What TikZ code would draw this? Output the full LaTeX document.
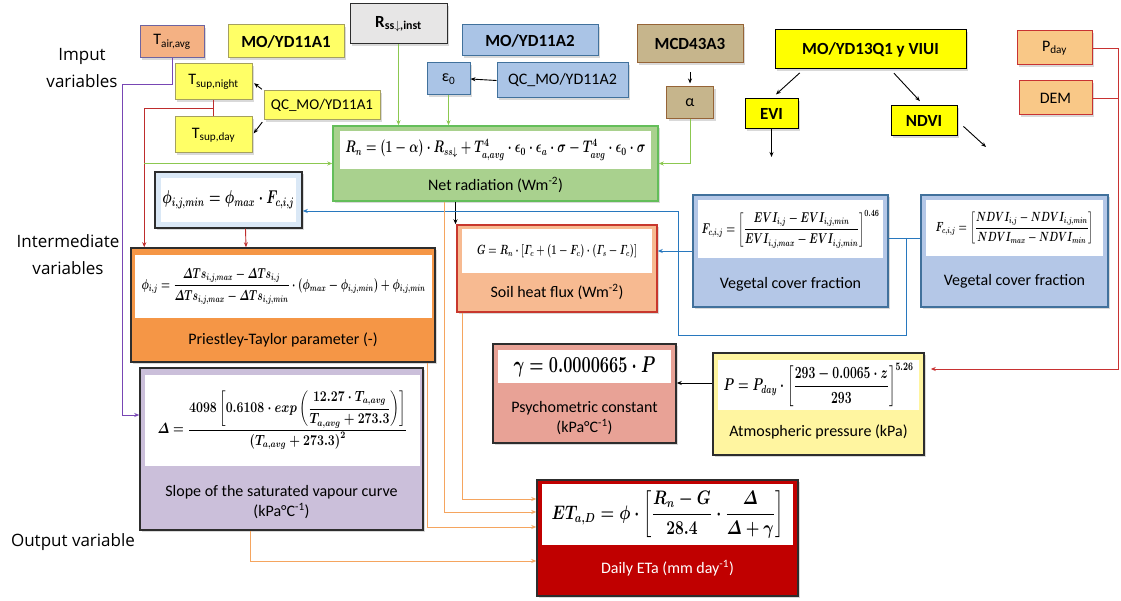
\RequirePackage{fix-cm}
\documentclass[tikz,border=0pt]{standalone}
\usepackage{amsmath}
\usepackage{graphicx}
\usepackage[no-math]{fontspec}
\setmainfont{Carlito}
\newfontfamily\handfont{Open Sans}
\usepackage{tikz}
\usetikzlibrary{arrows.meta,positioning,calc,shadows}
\definecolor{tairfill}{RGB}{244,177,131}
\definecolor{tairline}{RGB}{110,100,160}
\definecolor{yelsoft}{RGB}{255,255,102}
\definecolor{yelline}{RGB}{165,160,95}
\definecolor{yelbright}{RGB}{255,255,0}
\definecolor{rssfill}{RGB}{231,230,230}
\definecolor{bluefill}{RGB}{170,196,230}
\definecolor{blueline}{RGB}{65,113,156}
\definecolor{tanfill}{RGB}{198,181,140}
\definecolor{tanline}{RGB}{150,100,55}
\definecolor{demfill}{RGB}{249,200,135}
\definecolor{demline}{RGB}{200,50,50}
\definecolor{netfill}{RGB}{169,209,142}
\definecolor{netline}{RGB}{100,190,90}
\definecolor{phiband}{RGB}{218,232,246}
\definecolor{ptfill}{RGB}{245,150,70}
\definecolor{slopefill}{RGB}{203,191,218}
\definecolor{soilfill}{RGB}{247,186,145}
\definecolor{soilline}{RGB}{200,55,45}
\definecolor{vegfill}{RGB}{180,199,231}
\definecolor{psyfill}{RGB}{232,162,150}
\definecolor{atmfill}{RGB}{255,245,160}
\definecolor{etafill}{RGB}{192,0,0}
\definecolor{darkline}{RGB}{45,45,45}
\definecolor{purplelink}{RGB}{120,70,180}
\definecolor{redlink}{RGB}{190,45,45}
\definecolor{greenlink}{RGB}{140,200,80}
\definecolor{bluelink}{RGB}{40,120,190}
\definecolor{orangelink}{RGB}{245,165,95}
% squeeze a formula to the width of its white panel
\newcommand{\eqfit}[3][1.4]{\scalebox{1}[#1]{\resizebox{#2}{!}{\boldmath#3}}}

\begin{document}
\begin{tikzpicture}[x=1pt, y=-1pt,
  inbox/.style={rectangle, draw, line width=1pt, inner sep=2pt,
                font=\fontsize{16}{18}\selectfont,
                drop shadow={shadow xshift=2pt, shadow yshift=-2pt, opacity=0.3}},
  bbox/.style={inbox, font=\fontsize{17}{19}\selectfont\bfseries},
  card/.style={rectangle, draw=darkline, line width=1.5pt,
               drop shadow={shadow xshift=2pt, shadow yshift=-2pt, opacity=0.3}},
  eqbox/.style={rectangle, fill=white, inner sep=0pt,
                font=\fontsize{12}{14}\selectfont\boldmath},
  lab/.style={font=\fontsize{16}{20}\selectfont, align=center},
  sidelab/.style={font=\handfont\fontsize{17}{27}\selectfont, align=center},
  arr/.style={-{Stealth[length=5pt,width=4pt]}, line width=0.9pt},
  link/.style={line width=0.9pt},
]
\useasboundingbox (0,0) rectangle (1121,601);

% row labels
\node[sidelab] (inlab) at (82,68) {Imput\\variables};
\node[sidelab] (midlab) at (68,255) {Intermediate\\variables};
\node[sidelab] (outlab) at (73,542) {Output variable};

% input variables
\node[inbox, fill=tairfill, draw=tairline, minimum width=64, minimum height=32] (tair) at (172,42) {T\textsubscript{air,avg}};
\node[bbox, fill=yelsoft, draw=yelline, minimum width=116, minimum height=33] (mod11a1) at (286,41.5) {MO/YD11A1};
\node[inbox, fill=yelsoft, draw=yelline, minimum width=77, minimum height=36] (tnight) at (213.5,82) {T\textsubscript{sup,night}};
\node[inbox, fill=yelsoft, draw=yelline, minimum width=77, minimum height=36] (tday) at (213.5,135) {T\textsubscript{sup,day}};
\node[inbox, font=\fontsize{15}{17}\selectfont, fill=yelsoft, draw=yelline, minimum width=116, minimum height=29] (qc11a1) at (322,105.5) {QC\_MO/YD11A1};
\node[bbox, fill=rssfill, draw=darkline, minimum width=97, minimum height=40] (rss) at (398.5,24) {R\textsubscript{ss$\downarrow$,inst}};
\node[bbox, fill=bluefill, draw=blueline, minimum width=136, minimum height=31] (mod11a2) at (530,40.5) {MO/YD11A2};
\node[inbox, fill=bluefill, draw=blueline, minimum width=43, minimum height=32] (emis) at (448.5,79) {ε\textsubscript{0}};
\node[inbox, fill=bluefill, draw=blueline, minimum width=131, minimum height=35] (qc11a2) at (562.5,80.5) {QC\_MO/YD11A2};
\node[bbox, fill=tanfill, draw=tanline, minimum width=106, minimum height=38] (mcd) at (690,44) {MCD43A3};
\node[inbox, fill=tanfill, draw=tanline, minimum width=47, minimum height=32] (albedo) at (690,103) {α};
\node[bbox, fill=yelbright, draw=black, minimum width=191, minimum height=39] (mod13) at (870.5,49.5) {MO/YD13Q1 y VIUI};
\node[bbox, fill=yelbright, draw=black, minimum width=53, minimum height=30] (evi) at (771.5,114) {EVI};
\node[bbox, fill=yelbright, draw=black, minimum width=66, minimum height=30] (ndvi) at (924,121) {NDVI};
\node[inbox, fill=demfill, draw=demline, minimum width=75, minimum height=34] (pday) at (1054.5,48) {P\textsubscript{day}};
\node[inbox, fill=demfill, draw=demline, minimum width=73, minimum height=34] (dem) at (1055.5,98) {DEM};
\coordinate (evitip) at (771.5,157);
\coordinate (ndvitip) at (986,147);

% intermediate variables
\node[card, fill=netfill, draw=netline, minimum width=325, minimum height=75] (net) at (495.5,163.5) {};
\node[eqbox, minimum width=311, minimum height=38] (neteq) at (495.5,150)
  {\eqfit{300pt}{$R_n=(1-\alpha)\cdot R_{ss\downarrow}+T^4_{a,avg}\cdot\epsilon_0\cdot\epsilon_a\cdot\sigma-T^4_{avg}\cdot\epsilon_0\cdot\sigma$}};
\node[lab] (netlab) at (495.5,185) {Net radiation (Wm\textsuperscript{-2})};

\node[card, fill=phiband, minimum width=147, minimum height=56] (phimin) at (228.5,200) {};
\node[eqbox, minimum width=135, minimum height=44] (phimineq) at (228.5,200)
  {\eqfit{132pt}{$\phi_{i,j,min}=\phi_{max}\cdot F_{c,i,j}$}};

\node[card, fill=ptfill, minimum width=304, minimum height=114] (pt) at (283,305) {};
\node[eqbox, minimum width=297, minimum height=63] (pteq) at (283.5,286.5)
  {\eqfit{284pt}{$\phi_{i,j}=\dfrac{\varDelta Ts_{i,j,max}-\varDelta Ts_{i,j}}{\varDelta Ts_{i,j,max}-\varDelta Ts_{i,j,min}}\cdot\left(\phi_{max}-\phi_{i,j,min}\right)+\phi_{i,j,min}$}};
\node[lab] (ptlab) at (283,340) {Priestley-Taylor parameter (-)};

\node[card, fill=slopefill, minimum width=283, minimum height=162] (slope) at (281.5,449) {};
\node[eqbox, minimum width=275, minimum height=91] (slopeeq) at (282.5,420.5)
  {\eqfit[1.2]{250pt}{$\varDelta=\dfrac{4098\left[0.6108\cdot exp\left(\dfrac{12.27\cdot T_{a,avg}}{T_{a,avg}+273.3}\right)\right]}{\left(T_{a,avg}+273.3\right)^2}$}};
\node[lab] (slopelab) at (281.5,502) {Slope of the saturated vapour curve\\(kPa°C\textsuperscript{-1})};

\node[card, fill=soilfill, draw=soilline, minimum width=200, minimum height=87] (soil) at (557,268.5) {};
\node[eqbox, minimum width=190, minimum height=44] (soileq) at (557,251)
  {\eqfit{160pt}{$G=R_n\cdot\left[\varGamma_c+(1-F_c)\cdot(\varGamma_s-\varGamma_c)\right]$}};
\node[lab] (soillab) at (557,292) {Soil heat flux (Wm\textsuperscript{-2})};

\node[card, fill=vegfill, draw=blueline, minimum width=195, minimum height=112] (vegevi) at (790.5,251) {};
\node[eqbox, minimum width=185, minimum height=58] (vegevieq) at (790.5,229)
  {\eqfit{178pt}{$F_{c,i,j}=\left[\dfrac{EVI_{i,j}-EVI_{i,j,min}}{EVI_{i,j,max}-EVI_{i,j,min}}\right]^{0.46}$}};
\node[lab] (vegevilab) at (790.5,284) {Vegetal cover fraction};

\node[card, fill=vegfill, draw=blueline, minimum width=187, minimum height=112] (vegndvi) at (1014.5,251) {};
\node[eqbox, minimum width=177, minimum height=56] (vegndvieq) at (1014.5,228)
  {\eqfit{158pt}{$F_{c,i,j}=\left[\dfrac{NDVI_{i,j}-NDVI_{i,j,min}}{NDVI_{max}-NDVI_{min}}\right]$}};
\node[lab] (vegndvilab) at (1014.5,281) {Vegetal cover fraction};

\node[card, fill=psyfill, minimum width=183, minimum height=99] (psych) at (584.5,393.5) {};
\node[eqbox, minimum width=173, minimum height=33] (psycheq) at (584.5,366.5)
  {\eqfit{142pt}{$\gamma=0.0000665\cdot P$}};
\node[lab] (psychlab) at (584.5,418) {Psychometric constant\\(kPa°C\textsuperscript{-1})};

\node[card, fill=atmfill, minimum width=211, minimum height=102] (atm) at (818.5,404) {};
\node[eqbox, minimum width=201, minimum height=50] (atmeq) at (818.5,385)
  {\eqfit{190pt}{$P=P_{day}\cdot\left[\dfrac{293-0.0065\cdot z}{293}\right]^{5.26}$}};
\node[lab] (atmlab) at (818.5,432) {Atmospheric pressure (kPa)};

% output variable
\node[card, fill=etafill, minimum width=261, minimum height=116] (eta) at (667.5,538) {};
\node[eqbox, minimum width=251, minimum height=61] (etaeq) at (667.5,514.5)
  {\eqfit[1.25]{232pt}{$ET_{a,D}=\phi\cdot\left[\dfrac{R_n-G}{28.4}\cdot\dfrac{\varDelta}{\varDelta+\gamma}\right]$}};
\node[lab, text=white] (etalab) at (667.5,568) {Daily ETa (mm day\textsuperscript{-1})};

% connectors
\draw[arr, draw=purplelink] (tair.south) -- ++(0,26) -- ++(-50,0) |- ([yshift=34pt]slope.west);
\draw[link, draw=redlink] (tnight.south) -- (tday.north);
\draw[arr, draw=redlink] ($(tnight.south)!0.5!(tday.north)$) -| ([xshift=14pt]pt.north west);
\draw[arr, draw=redlink] ([xshift=17pt]phimin.south) -- ([xshift=-37pt]pt.north);
\draw[arr, shorten <=2pt, shorten >=2pt] (qc11a1.north west) -- (tnight.east);
\draw[arr, shorten <=2pt, shorten >=2pt] (qc11a1.south west) -- (tday.east);
\draw[arr, draw=greenlink] ([xshift=-188pt]net.west) -- (net.west);
\draw[arr, draw=greenlink] (rss.south) -- (rss.south |- net.north);
\draw[arr, draw=greenlink] (emis.south) -- (emis.south |- net.north);
\draw[arr] (qc11a2.west) -- (emis.east);
\draw[arr, shorten <=9pt, shorten >=3pt] (mcd.south) -- (albedo.north);
\draw[arr, draw=greenlink] (albedo.south) |- (net.east);
\draw[arr, shorten <=5pt, shorten >=6pt] ([xshift=-67pt]mod13.south) -- (evi.north);
\draw[arr, shorten <=5pt, shorten >=6pt] ([xshift=20pt]mod13.south) -- (ndvi.north);
\draw[arr] (evi.south) -- (evitip);
\draw[arr, shorten <=8pt] (ndvi.east) -- (ndvitip);
\draw[link, draw=demline] (dem.east) -- ++(26,0);
\draw[arr, draw=demline, shorten >=6pt] (pday.east) -- ++(26,0) |- ([yshift=35pt]atm.east);
\draw[arr] ([yshift=21pt]atm.west) -- ([yshift=10.5pt]psych.east);
\draw[arr] ([xshift=-40pt]net.south) -- ([xshift=-101.5pt]soil.north);
\draw[arr, draw=bluelink] (vegevi.west) -- (vegevi.west -| soil.east);
\draw[link, draw=bluelink] ([yshift=13pt]vegevi.east) -- ([yshift=13pt]vegndvi.west);
\draw[arr, draw=bluelink] ([xshift=18pt,yshift=13pt]vegevi.east) |- (678,335) |- ([yshift=-11pt]phimin.east);
\draw[arr, draw=orangelink] ([xshift=-95pt]soil.south) |- ([yshift=39pt]eta.west);
\draw[arr, draw=orangelink] ([xshift=-51.5pt]net.south) |- ([yshift=26pt]eta.west);
\draw[arr, draw=orangelink] ([xshift=144pt]pt.south) |- ([yshift=11pt]eta.west);
\draw[arr, draw=orangelink] ([xshift=-31.5pt]slope.south) |- ([yshift=-23pt]eta.west);
\end{tikzpicture}
\end{document}
